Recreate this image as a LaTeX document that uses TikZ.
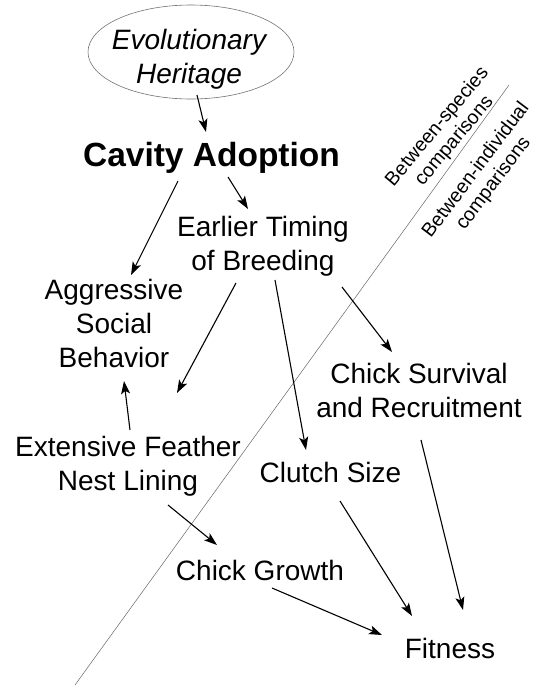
\documentclass[tikz,border=0pt]{standalone}
\usepackage{fontspec}
\setmainfont{Liberation Sans}
\usetikzlibrary{arrows.meta,shapes.geometric}
\begin{document}
\begin{tikzpicture}[x=1pt,y=-1pt,
  lbl/.style={inner sep=0pt, align=center, anchor=base, font=\fontsize{28}{34}\selectfont},
  arr/.style={line width=1.1pt, -{Stealth[length=13pt,width=9pt,inset=3pt]}},
  side/.style={inner sep=0pt, align=center, font=\fontsize{19.5}{22}\selectfont},
  divider/.style={line width=0.5pt, draw=black!60},
  heritage/.style={ellipse, draw=black!55, line width=0.6pt, minimum width=206pt, minimum height=94pt, inner sep=0pt}]
\useasboundingbox (0,0) rectangle (538,686);

% divider line
\coordinate (dtop) at (509,85);
\coordinate (dbot) at (75,685);
\draw[divider] (dtop) -- (dbot);

\node[side, rotate=50] (species) at (446,134) {Between-species\\comparisons};
\node[side, rotate=53] (individual) at (485,177) {Between-individual\\comparisons};

% nodes (base = baseline of the last line)
\node[heritage] (evo) at (191,52) {};
\node[lbl, font=\fontsize{28}{34}\selectfont\itshape] (evotext) at (189,83) {Evolutionary\\Heritage};
\node[lbl, font=\fontsize{33.5}{40}\selectfont\bfseries] (cavity) at (211.5,166) {Cavity Adoption};
\node[lbl] (breeding) at (263,270) {Earlier Timing\\of Breeding};
\node[lbl] (aggr) at (114,367) {Aggressive\\Social\\Behavior};
\node[lbl] (lining) at (128,490) {Extensive Feather\\Nest Lining};
\node[lbl] (survival) at (419,417) {Chick Survival\\and Recruitment};
\node[lbl] (clutch) at (330.5,482) {Clutch Size};
\node[lbl] (growth) at (260,580) {Chick Growth};
\node[lbl] (fitness) at (450,658) {Fitness};

% arrows
\draw[arr] ([shift={(6,43)}]evo.center) -- ([shift={(-5.5,-34)}]cavity.base);
\draw[arr] ([shift={(16.5,11)}]cavity.base) -- ([shift={(-15,-61)}]breeding.base);
\draw[arr] ([shift={(-33.5,15)}]cavity.base) -- ([shift={(17,-92)}]aggr.base);
\draw[arr] ([shift={(-27,13)}]breeding.base) -- ([shift={(63,26)}]aggr.base);
\draw[arr] ([shift={(12,10)}]breeding.base) -- ([shift={(-24.5,-32)}]clutch.base);
\draw[arr] ([shift={(79,17)}]breeding.base) -- ([shift={(-27,-65)}]survival.base);
\draw[arr] ([shift={(2,-60)}]lining.base) -- ([shift={(10,14)}]aggr.base);
\draw[arr] ([shift={(40,15)}]lining.base) -- ([shift={(-43,-35)}]growth.base);
\draw[arr] ([shift={(12,8)}]growth.base) -- ([shift={(-68,-23)}]fitness.base);
\draw[arr] ([shift={(9.5,19)}]clutch.base) -- ([shift={(-38,-42)}]fitness.base);
\draw[arr] ([shift={(2,23)}]survival.base) -- ([shift={(13,-48)}]fitness.base);
\end{tikzpicture}
\end{document}
